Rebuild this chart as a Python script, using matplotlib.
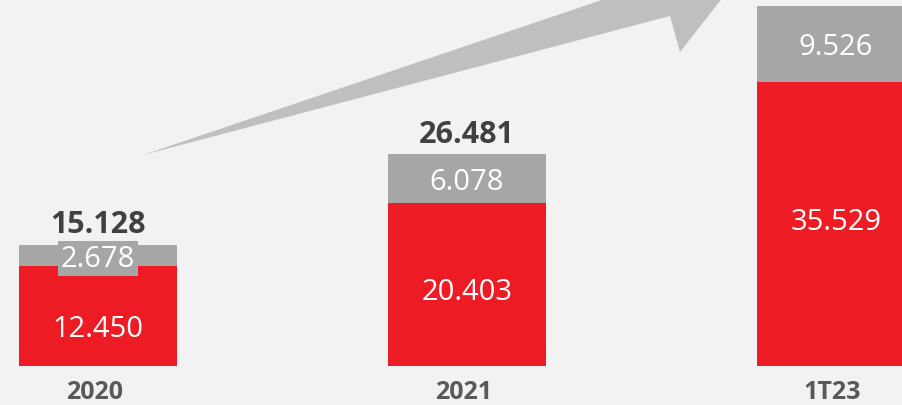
import numpy as np
import matplotlib.pyplot as plt
from matplotlib.patches import Polygon

plt.rcParams['font.family'] = ['Open Sans', 'DejaVu Sans']

categories = ["2020", "2021", "1T23"]
red_vals = [12.450, 20.403, 35.529]
gray_vals = [2.678, 6.078, 9.526]
totals = [15.128, 26.481, None]   # 1T23 total is cut off in the picture

red = "#ED1C24"
gray = "#A6A6A6"
bg = "#F2F2F2"

fig = plt.figure(figsize=(9.02, 4.06), dpi=100, facecolor=bg)
ax = fig.add_axes([0, 0, 1, 1])
ax.set_facecolor(bg)

x = np.arange(len(categories))
w = 0.428
ax.bar(x, red_vals, width=w, color=red, zorder=2)
ax.bar(x, gray_vals, width=w, bottom=red_vals, color=gray, zorder=2)

for i in range(len(categories)):
    ax.text(x[i], 0.58 * red_vals[i] - 2.5, f"{red_vals[i]:.3f}", ha="center", va="center",
            color="white", fontsize=21, zorder=3)
    box = None
    if gray_vals[i] < 4:
        box = dict(boxstyle="square,pad=0.1", fc=gray, ec="none")
    ax.text(x[i], red_vals[i] + gray_vals[i] / 2 - 0.35, f"{gray_vals[i]:.3f}", ha="center",
            va="center", color="white", fontsize=21, bbox=box, zorder=3)
    if totals[i] is not None:
        ax.annotate(f"{totals[i]:.3f}", (x[i], red_vals[i] + gray_vals[i]),
                    xytext=(0, 4), textcoords="offset points", ha="center", va="bottom",
                    color="#404040", fontsize=22, fontweight="bold", zorder=3)
    ax.text(x[i] - 0.01, -3.25, categories[i], ha="center", va="center",
            color="#595959", fontsize=18, fontweight="bold")

# growth arrow (decoration), in pixel coords of the 902x406 canvas
arrow_px = [(143, 156), (664, -20), (745, -30), (680, 53), (670, 17)]
arrow = [(px / 902, 1 - py / 406) for px, py in arrow_px]
ax.add_patch(Polygon(arrow, closed=True, transform=ax.transAxes, fc="#BFBFBF", ec="none",
                     zorder=1, clip_on=True))

ax.set_xlim(-98 / 369, 804 / 369)
ax.set_ylim(-39 / 8, 367 / 8)
ax.axis("off")

fig.savefig("out.png", dpi=100, facecolor=bg)
